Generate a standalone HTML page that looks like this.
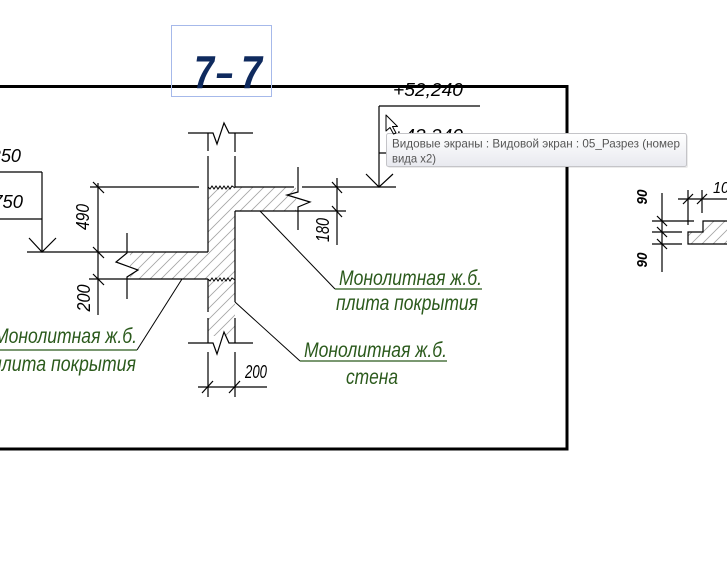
<!DOCTYPE html>
<html><head><meta charset="utf-8"><style>
html,body{margin:0;padding:0;background:#fff;width:727px;height:573px;overflow:hidden}
svg{display:block}
.d{font-family:"Liberation Sans",sans-serif;font-style:italic;fill:#000;font-size:18px}
.g{font-family:"Liberation Sans",sans-serif;font-style:italic;fill:#2b5a1c;font-size:21px}
</style></head><body>
<svg width="727" height="573" viewBox="0 0 727 573" xmlns="http://www.w3.org/2000/svg">
<defs>
<pattern id="h" patternUnits="userSpaceOnUse" width="11" height="11">
<path d="M0 11 L11 0 M-2 2 L2 -2 M9 13 L13 9" stroke="#a4a4a4" stroke-width="0.8"/>
</pattern>
<linearGradient id="tg" x1="0" y1="0" x2="0" y2="1"><stop offset="0" stop-color="#ffffff"/><stop offset="1" stop-color="#e8e9ef"/></linearGradient>
</defs>

<!-- frame -->
<g stroke="#000" stroke-width="3" fill="none">
<line x1="0" y1="86.5" x2="568" y2="86.5"/>
<line x1="567" y1="85" x2="567" y2="450.5"/>
<line x1="0" y1="449" x2="568.5" y2="449"/>
</g>

<!-- hatch -->
<polygon points="208,187 296,187 296,211 235,211 235,336 208,336 208,279 130,279 130,252 208,252" fill="url(#h)"/>
<polygon points="703,221 727,221 727,244 688,244 688,232 703,232" fill="url(#h)"/>

<g stroke="#000" stroke-width="1.2" fill="none">
<!-- top break -->
<polyline points="188,133 213,133 217,144 224,123 229,133 253,133"/>
<line x1="208" y1="133" x2="208" y2="151"/><line x1="208" y1="156" x2="208" y2="252"/>
<line x1="235" y1="133" x2="235" y2="152"/><line x1="235" y1="156" x2="235" y2="187"/>
<!-- wavy joints -->
<polyline stroke-width="1" points="208,187 210,189 212,186 214,189 216,186 218,189 220,186 222,189 224,186 226,189 228,186 230,189 232,186 235,188"/>
<polyline stroke-width="1" points="208,279 210,281 212,278 214,281 216,278 218,281 220,278 222,281 224,278 226,281 228,278 230,281 232,278 235,280"/>
<!-- right slab -->
<line x1="235" y1="187" x2="294" y2="187"/>
<line x1="302" y1="187" x2="396" y2="187"/>
<line x1="235" y1="211" x2="346" y2="211"/>
<polyline points="298,167 298,192 287,195 310,202 298,207 298,230"/>
<!-- wall below -->
<line x1="235" y1="211" x2="235" y2="302"/>
<line x1="235" y1="318" x2="235" y2="343"/>
<line x1="208" y1="279" x2="208" y2="312"/>
<line x1="208" y1="318" x2="208" y2="343"/>
<polyline points="188,343 213,343 217,354 224,332 229,343 253,343"/>
<line x1="208" y1="352" x2="208" y2="397"/>
<line x1="235" y1="352" x2="235" y2="397"/>
<!-- left slab -->
<line x1="27" y1="252" x2="208" y2="252"/>
<line x1="89" y1="279" x2="208" y2="279"/>
<polyline points="127,233 127,253 116,262 138,270 127,277 127,299"/>
<!-- left dims -->
<line x1="90" y1="187" x2="199" y2="187"/>
<line x1="98" y1="183" x2="98" y2="315"/>
<line x1="93" y1="182" x2="104" y2="193"/>
<line x1="93" y1="247" x2="104" y2="258"/>
<line x1="93" y1="274" x2="104" y2="285"/>
<!-- left level -->
<line x1="0" y1="172" x2="42" y2="172"/>
<line x1="0" y1="219" x2="42" y2="219"/>
<line x1="42" y1="172" x2="42" y2="252"/>
<polyline points="29,238 42,252 56,238"/>
<!-- right 180 dim -->
<line x1="337" y1="178" x2="337" y2="245"/>
<line x1="332" y1="182" x2="342" y2="193"/>
<line x1="332" y1="206" x2="342" y2="217"/>
<!-- right level -->
<line x1="379" y1="106" x2="480" y2="106"/>
<line x1="379" y1="106" x2="379" y2="187"/>
<line x1="379" y1="153" x2="470" y2="153"/>
<polyline points="366,174 379,187 393,174"/>
<!-- bottom dim -->
<line x1="198" y1="387" x2="267" y2="387"/>
<line x1="202" y1="393" x2="213" y2="381"/>
<line x1="229" y1="393" x2="240" y2="381"/>
<!-- right strip -->
<line x1="662" y1="193" x2="662" y2="272"/>
<line x1="652" y1="221" x2="694" y2="221"/>
<line x1="652" y1="232" x2="682" y2="232"/>
<line x1="652" y1="244" x2="682" y2="244"/>
<line x1="657" y1="216" x2="667" y2="226"/>
<line x1="657" y1="227" x2="667" y2="237"/>
<line x1="657" y1="239" x2="667" y2="249"/>
<polyline points="727,221 703,221 703,232 688,232 688,244 727,244"/>
<line x1="678" y1="199" x2="727" y2="199"/>
<line x1="688" y1="190" x2="688" y2="225"/>
<line x1="702" y1="190" x2="702" y2="213"/>
<line x1="683" y1="204" x2="693" y2="194"/>
<line x1="697" y1="204" x2="707" y2="194"/>
</g>

<!-- leaders -->
<g stroke="#000" stroke-width="1" fill="none">
<line x1="137" y1="350" x2="182" y2="279"/>
<line x1="260" y1="211" x2="335" y2="289"/>
<line x1="235" y1="302" x2="300" y2="361"/>
</g>
<g stroke="#2b5a1c" stroke-width="1.2">
<line x1="0" y1="350" x2="137" y2="350"/>
<line x1="335" y1="289" x2="482" y2="289"/>
<line x1="300" y1="361" x2="447" y2="361"/>
</g>

<!-- green labels -->
<text class="g" x="-6" y="343" textLength="143" lengthAdjust="spacingAndGlyphs">Монолитная ж.б.</text>
<text class="g" x="-8" y="371" textLength="144" lengthAdjust="spacingAndGlyphs">плита покрытия</text>
<text class="g" x="339" y="285" textLength="143" lengthAdjust="spacingAndGlyphs">Монолитная ж.б.</text>
<text class="g" x="336" y="310" textLength="142" lengthAdjust="spacingAndGlyphs">плита покрытия</text>
<text class="g" x="304" y="357" textLength="143" lengthAdjust="spacingAndGlyphs">Монолитная ж.б.</text>
<text class="g" x="346" y="384" textLength="52" lengthAdjust="spacingAndGlyphs">стена</text>

<!-- dim texts -->
<text class="d" transform="translate(82,217) rotate(-90)" x="0" y="7" text-anchor="middle" textLength="26" lengthAdjust="spacingAndGlyphs">490</text>
<text class="d" transform="translate(83,298) rotate(-90)" x="0" y="7" text-anchor="middle" textLength="27" lengthAdjust="spacingAndGlyphs">200</text>
<text class="d" transform="translate(322,230) rotate(-90)" x="0" y="7" text-anchor="middle" textLength="24" lengthAdjust="spacingAndGlyphs">180</text>
<text class="d" x="245" y="378" textLength="22" lengthAdjust="spacingAndGlyphs">200</text>
<text class="d" x="393" y="96" textLength="70" lengthAdjust="spacingAndGlyphs">+52,240</text>
<text class="d" x="393" y="142" textLength="70" lengthAdjust="spacingAndGlyphs">+43,240</text>
<text class="d" x="-45" y="162" textLength="66" lengthAdjust="spacingAndGlyphs">+52,250</text>
<text class="d" x="-44" y="208" textLength="67" lengthAdjust="spacingAndGlyphs">+49,750</text>
<text class="d" style="font-size:15px;font-weight:bold" transform="translate(642,197) rotate(-90)" x="0" y="5" text-anchor="middle" textLength="15" lengthAdjust="spacingAndGlyphs">90</text>
<text class="d" style="font-size:15px;font-weight:bold" transform="translate(642,260) rotate(-90)" x="0" y="5" text-anchor="middle" textLength="15" lengthAdjust="spacingAndGlyphs">90</text>
<text class="d" style="font-size:16px" x="713" y="193" textLength="24" lengthAdjust="spacingAndGlyphs">100</text>

<!-- section title -->
<rect x="171.5" y="25.5" width="100" height="71" fill="none" stroke="#a6b9ea" stroke-width="1"/>
<g font-family="Liberation Sans, sans-serif" font-style="italic" font-weight="bold" font-size="46" fill="#0f2a5e">
<text x="194" y="88" textLength="20" lengthAdjust="spacingAndGlyphs">7</text>
<text x="216" y="88" textLength="17" lengthAdjust="spacingAndGlyphs">–</text>
<text x="241" y="88" textLength="21" lengthAdjust="spacingAndGlyphs">7</text>
</g>

<!-- tooltip -->
<rect x="388" y="135" width="300" height="33" rx="2" fill="#000" opacity="0.08"/>
<rect x="386.5" y="133.5" width="300" height="33" rx="2" fill="url(#tg)" stroke="#c4c4c8" stroke-width="1"/>
<g font-family="Liberation Sans, sans-serif" font-size="12" fill="#555">
<text x="392" y="147.5" textLength="288" lengthAdjust="spacingAndGlyphs">Видовые экраны : Видовой экран : 05_Разрез (номер</text>
<text x="392" y="162.5" textLength="44" lengthAdjust="spacingAndGlyphs">вида x2)</text>
</g>

<!-- cursor -->
<polygon points="386,115 386,131 390,127.5 393.5,134 396,133 392.5,126.5 397.5,126.5" fill="#fff" stroke="#000" stroke-width="1" stroke-linejoin="round"/>
</svg>
</body></html>
